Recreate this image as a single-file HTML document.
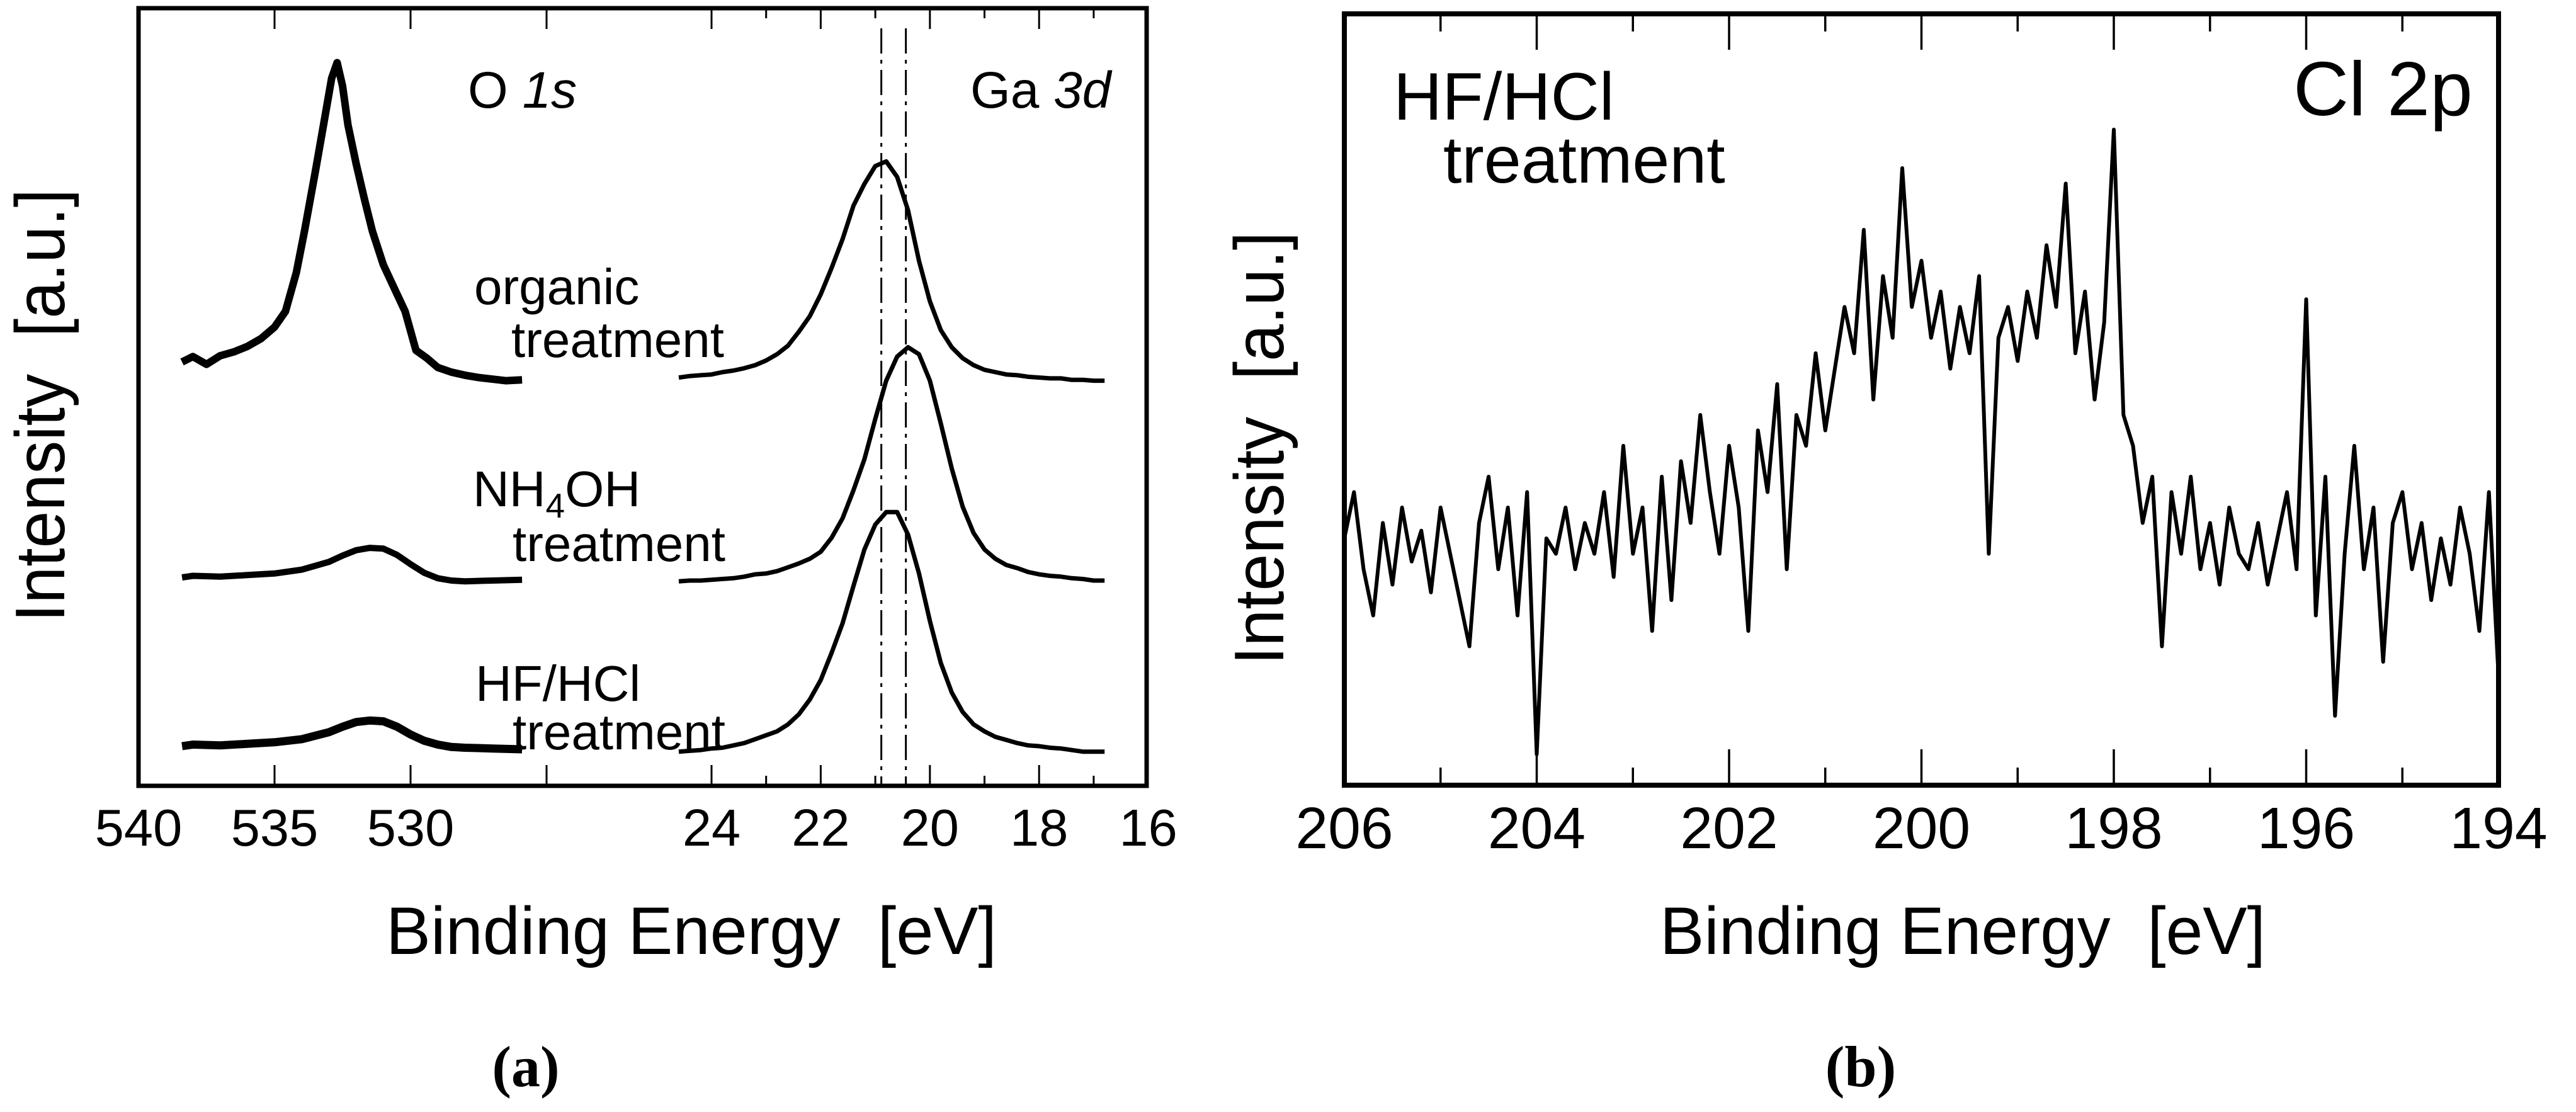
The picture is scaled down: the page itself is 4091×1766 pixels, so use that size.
<!DOCTYPE html>
<html><head><meta charset="utf-8"><style>
html,body{margin:0;padding:0;background:#fff;overflow:hidden;width:4091px;height:1766px;}
svg{display:block;}
text{font-family:"Liberation Sans",Arial,sans-serif;fill:#000;}
</style></head><body>
<svg id="fig" width="4091" height="1766" viewBox="0 0 4091 1766" xmlns="http://www.w3.org/2000/svg">
<rect x="0" y="0" width="4091" height="1766" fill="#fff"/>
<g id="pa"></g>
<g id="pb"></g>
</svg>
<script>
// ---------- Panel (a) data ----------
const oTicks = [540, 535, 530, 525];
const oTickLabels = ["540", "535", "530"];
const gaTicks = [24, 23, 22, 21, 20, 19, 18, 17, 16];
const gaTickLabels = ["24", "22", "20", "18", "16"];
const gaTickLabelVals = [24, 22, 20, 18, 16];
const refLines = [20.89, 20.44];

const oOrgX = [538.4,538,537.5,537,536.5,536,535.5,535,534.6,534.2,533.9,533.5,533.2,532.9,532.7,532.5,532.3,532,531.7,531.4,531,530.6,530.2,529.8,529.4,529,528.5,528,527.5,527,526.5,525.9];
const oOrgY = [54.5,55.2,54.2,55.3,55.8,56.5,57.5,59,61,66,71.3,79,85,91,93,90,85,80,75.5,71.3,67,64,61,56,55,53.8,53.2,52.8,52.5,52.3,52.1,52.2];
const oNhX = [538.4,538,537,536,535,534,533,532.5,532,531.5,531,530.5,530,529.5,529,528.5,528,527,525.9];
const oNhY = [26.8,27,26.9,27.1,27.3,27.8,28.8,29.6,30.3,30.6,30.5,29.7,28.5,27.4,26.7,26.4,26.3,26.4,26.5];
const oHfX = [538.4,538,537,536,535,534,533,532.5,532,531.5,531,530.5,530,529.5,529,528.5,528,527,525.9];
const oHfY = [5.1,5.3,5.2,5.4,5.6,6.0,6.9,7.6,8.2,8.4,8.3,7.6,6.6,5.8,5.3,5.0,4.9,4.8,4.7];

const gaX = [24.6,24.4,24.2,24.0,23.8,23.6,23.4,23.2,23.0,22.8,22.6,22.4,22.2,22.0,21.8,21.6,21.4,21.2,21.0,20.8,20.6,20.4,20.2,20.0,19.8,19.6,19.4,19.2,19.0,18.8,18.6,18.4,18.2,18.0,17.8,17.6,17.4,17.2,17.0,16.8];
const gaOrgY = [52.5,52.7,52.8,52.9,53.2,53.4,53.7,54.1,54.7,55.5,56.6,58.4,60.4,63.2,66.6,70.3,74.6,77.4,79.7,80.3,78.3,74.0,67.5,62.3,58.6,56.4,55.0,54.1,53.5,53.2,52.9,52.8,52.6,52.5,52.4,52.4,52.2,52.2,52.1,52.1];
const gaNhY = [26.3,26.4,26.4,26.5,26.6,26.7,26.9,27.2,27.3,27.6,28.1,28.6,29.2,30.1,31.9,34.4,38.0,42.0,47.2,52.1,55.2,56.4,55.5,52.1,46.6,40.8,35.9,32.5,30.4,29.2,28.4,28.0,27.5,27.2,27.0,26.9,26.7,26.6,26.4,26.4];
const gaHfY = [4.4,4.5,4.6,4.8,4.9,5.2,5.5,6.0,6.5,7.0,7.9,9.2,11.1,13.6,17.1,20.9,25.7,30.4,33.6,35.2,35.2,32.3,27.3,21.2,15.8,12.0,9.5,7.9,7.0,6.3,5.9,5.5,5.2,5.1,4.9,4.8,4.6,4.4,4.4,4.4];

// ---------- Panel (b) data ----------
const clTicks = [206,205,204,203,202,201,200,199,198,197,196,195,194];
const clTickLabels = ["206","204","202","200","198","196","194"];
const clTickLabelVals = [206,204,202,200,198,196,194];
const clStart = 206.0, clStep = 0.1;
const clY = [32,38,28,22,34,26,36,29,33,25,
36,30,24,18,34,40,28,36,22,38,
4,32,30,36,28,34,30,38,27,44,
30,36,20,40,24,42,34,48,38,30,
44,36,20,46,38,52,28,48,44,56,
46,54,62,56,72,50,66,58,80,62,
68,58,64,54,62,56,66,30,58,62,
55,64,58,70,62,78,56,64,50,60,
85,48,44,34,40,18,38,30,40,28,
34,26,36,30,28,34,26,32,38,28,
63,22,40,9,30,44,28,36,16,34,
38,28,34,24,32,26,36,30,20,38,14];

const NS = "http://www.w3.org/2000/svg";
function mk(parent, tag, attrs){ const e=document.createElementNS(NS,tag); for(const k in attrs) e.setAttribute(k,attrs[k]); parent.appendChild(e); return e; }

// ---- axis functions panel (a)
const A = {left:220, right:1821, top:13, bottom:1248};
const xO = v => 220 + (540 - v) * 43.2;
const xGa = v => 1130 + (24 - v) * 86.7;
const yA = v => A.bottom - v * (A.bottom - A.top) / 100;

const pa = document.getElementById('pa');
const frameA = mk(pa,'rect',{x:A.left,y:A.top,width:A.right-A.left,height:A.bottom-A.top,fill:'none',stroke:'#000','stroke-width':7});



oTicks.forEach(t=>{
  const x=xO(t); const len = (t%5===0)?33:16;
  const tb=mk(pa,'line',{x1:x,y1:A.bottom,x2:x,y2:A.bottom-len,stroke:'#000','stroke-width':3});
  
  
  const tt=mk(pa,'line',{x1:x,y1:A.top,x2:x,y2:A.top+len,stroke:'#000','stroke-width':3});
  
  
});
oTickLabels.forEach((s,i)=>{
  const t=mk(pa,'text',{x:xO(oTicks[i]),y:1343,'font-size':83,'text-anchor':'middle'});
  t.textContent=s;
  
  
});
gaTicks.forEach(t=>{
  const x=xGa(t); const len=(t%2===0)?33:16;
  if(t===16) return;
  const tb=mk(pa,'line',{x1:x,y1:A.bottom,x2:x,y2:A.bottom-len,stroke:'#000','stroke-width':3});
  
  
  const tt=mk(pa,'line',{x1:x,y1:A.top,x2:x,y2:A.top+len,stroke:'#000','stroke-width':3});
  
  
});
gaTickLabels.forEach((s,i)=>{
  const t=mk(pa,'text',{x:xGa(gaTickLabelVals[i]),y:1343,'font-size':83,'text-anchor':'middle'});
  t.textContent=s;
  
  
});
refLines.forEach(v=>{
  const l=mk(pa,'line',{x1:xGa(v),y1:45,x2:xGa(v),y2:A.bottom,stroke:'#000','stroke-width':3,'stroke-dasharray':'40 10 6 10'});
  
  
});
function curve(parent, xs, ys, xf, yf, name, w){
  let d='';
  xs.forEach((x,i)=>{ d += (i?'L':'M') + xf(x).toFixed(1) + ',' + yf(ys[i]).toFixed(1); });
  const p=mk(parent,'path',{d:d,fill:'none',stroke:'#000','stroke-width':w,'stroke-linejoin':'round'});
  
  
}
curve(pa,oOrgX,oOrgY,xO,yA,'o1s-organic-spectrum',12);
curve(pa,oNhX,oNhY,xO,yA,'o1s-nh4oh-spectrum',10);
curve(pa,oHfX,oHfY,xO,yA,'o1s-hfhcl-spectrum',13);
curve(pa,gaX,gaOrgY,xGa,yA,'ga3d-organic-spectrum',7);
curve(pa,gaX,gaNhY,xGa,yA,'ga3d-nh4oh-spectrum',7);
curve(pa,gaX,gaHfY,xGa,yA,'ga3d-hfhcl-spectrum',7);

// ---- axis functions panel (b)
const B = {left:2135, right:3968, top:22, bottom:1247};
const xB = v => B.left + (206 - v) * (B.right - B.left) / 12;
const yB = v => B.bottom - v * 12.25;
const pb = document.getElementById('pb');
const frameB = mk(pb,'rect',{x:B.left,y:B.top,width:B.right-B.left,height:B.bottom-B.top,fill:'none',stroke:'#000','stroke-width':8});


clTicks.forEach(t=>{
  if(t===206||t===194) return;
  const x=xB(t); const len=(t%2===0)?57:28;
  const tb=mk(pb,'line',{x1:x,y1:B.bottom,x2:x,y2:B.bottom-len,stroke:'#000','stroke-width':3.5});
  
  
  const tt=mk(pb,'line',{x1:x,y1:B.top,x2:x,y2:B.top+len,stroke:'#000','stroke-width':3.5});
  
  
});
clTickLabels.forEach((s,i)=>{
  const t=mk(pb,'text',{x:xB(clTickLabelVals[i]),y:1347,'font-size':93,'text-anchor':'middle'});
  t.textContent=s;
  
  
});
const clX = clY.map((v,i)=>clStart - i*clStep);
curve(pb,clX,clY,xB,yB,'cl2p-spectrum',6);

// ---- text labels
const fig=document.getElementById('fig');
function T(x,y,size,txt,name,extra){
  const t=document.createElementNS(NS,'text');
  t.setAttribute('x',x); t.setAttribute('y',y); t.setAttribute('font-size',size);
  if(extra) for(const k in extra) t.setAttribute(k,extra[k]);
  t.innerHTML=txt;
  
  
  fig.appendChild(t); return t;
}
T(743,171,82,'O <tspan font-style="italic">1s</tspan>','o1s-label');
T(1541,171,82,'Ga <tspan font-style="italic">3d</tspan>','ga3d-label');
T(753,483,80,'organic','organic-label');
T(812,567,80,'treatment','organic-treatment-label');
T(751,804,80,'NH<tspan font-size="55" dy="18">4</tspan><tspan dy="-18">OH</tspan>','nh4oh-label');
T(814,891,80,'treatment','nh4oh-treatment-label');
T(755,1113,80,'HF/HCl','hfhcl-label');
T(814,1190,80,'treatment','hfhcl-treatment-label');
T(0,0,111,'Intensity&#160;&#160;[a.u.]','y-axis-title-a',{'text-anchor':'middle',transform:'translate(102 644) rotate(-90)','textLength':688,'lengthAdjust':'spacingAndGlyphs'});
T(1098,1515,107,'Binding Energy&#160;&#160;[eV]','x-axis-title-a',{'text-anchor':'middle','textLength':970,'lengthAdjust':'spacingAndGlyphs'});
T(835,1725,92,'(a)','panel-label-a',{'text-anchor':'middle','font-weight':'bold','style':'font-family:"Liberation Serif",serif'});
T(3642,183,122,'Cl 2p','cl2p-label');
T(2213,190,107,'HF/HCl','hfhcl-label-b');
T(2292,290,106,'treatment','treatment-label-b');
T(0,0,111,'Intensity&#160;&#160;[a.u.]','y-axis-title-b',{'text-anchor':'middle',transform:'translate(2038 712) rotate(-90)','textLength':688,'lengthAdjust':'spacingAndGlyphs'});
T(3117,1515,107,'Binding Energy&#160;&#160;[eV]','x-axis-title-b',{'text-anchor':'middle','textLength':962,'lengthAdjust':'spacingAndGlyphs'});
T(2955,1725,92,'(b)','panel-label-b',{'text-anchor':'middle','font-weight':'bold','style':'font-family:"Liberation Serif",serif'});
</script>
</body></html>
